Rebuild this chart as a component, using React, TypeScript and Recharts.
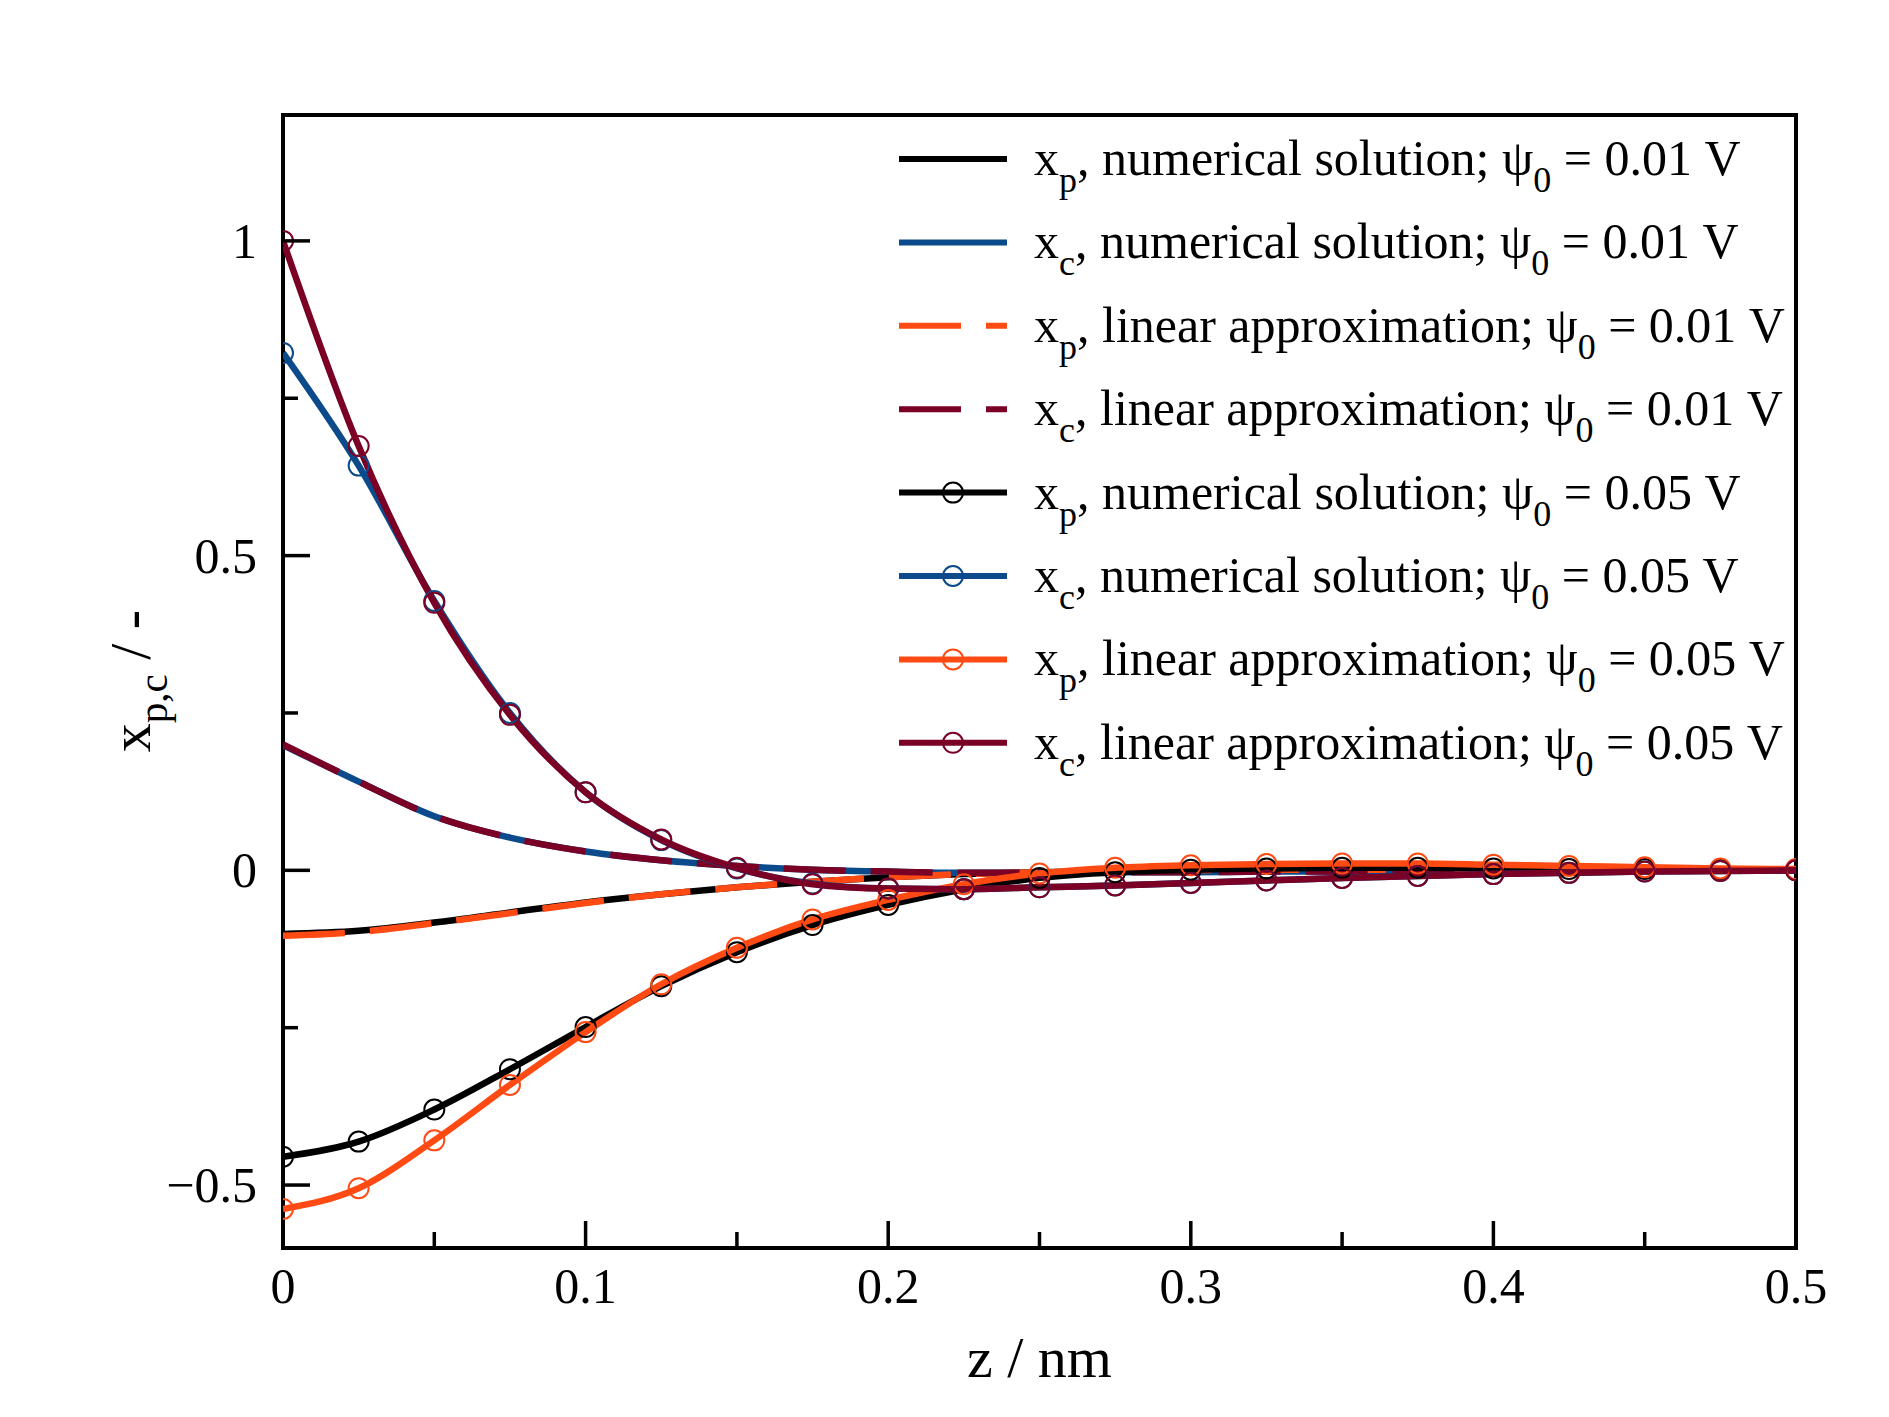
import React from 'react';
import { LineChart, Line, XAxis, YAxis, ReferenceArea, Label } from 'recharts';

// z / nm
const zNm = [0, 0.025, 0.05, 0.075, 0.1, 0.125, 0.15, 0.175, 0.2, 0.225, 0.25, 0.275, 0.3, 0.325, 0.35, 0.375, 0.4, 0.425, 0.45, 0.475, 0.5];

// psi0 = 0.01 V
const xpNum001 = [-0.101, -0.096, -0.083, -0.067, -0.051, -0.038, -0.027, -0.018, -0.011, -0.006, -0.003, -0.001, 0.0, 0.001, 0.001, 0.001, 0.0, 0.0, 0.0, 0.0, 0.0];
const xcNum001 = [0.199, 0.141, 0.086, 0.052, 0.03, 0.016, 0.007, 0.001, -0.002, -0.004, -0.004, -0.003, -0.003, -0.002, -0.002, -0.001, -0.001, -0.001, 0.0, 0.0, 0.0];
const xpLin001 = [-0.104, -0.098, -0.084, -0.068, -0.052, -0.038, -0.027, -0.018, -0.011, -0.006, -0.003, -0.001, 0.0, 0.001, 0.001, 0.001, 0.0, 0.0, 0.0, 0.0, 0.0];
const xcLin001 = [0.2, 0.141, 0.086, 0.052, 0.03, 0.016, 0.007, 0.001, -0.002, -0.004, -0.004, -0.003, -0.003, -0.002, -0.002, -0.001, -0.001, -0.001, 0.0, 0.0, 0.0];

// psi0 = 0.05 V
const xpNum005 = [-0.455, -0.431, -0.38, -0.316, -0.249, -0.184, -0.13, -0.087, -0.055, -0.03, -0.012, -0.003, 0.001, 0.003, 0.004, 0.004, 0.003, 0.002, 0.002, 0.001, 0.0];
const xcNum005 = [0.822, 0.643, 0.428, 0.25, 0.124, 0.048, 0.003, -0.021, -0.029, -0.03, -0.027, -0.024, -0.02, -0.016, -0.012, -0.009, -0.006, -0.004, -0.002, -0.001, 0.0];
const xpLin005 = [-0.538, -0.505, -0.429, -0.341, -0.257, -0.181, -0.123, -0.078, -0.047, -0.022, -0.005, 0.004, 0.008, 0.01, 0.011, 0.011, 0.009, 0.007, 0.005, 0.003, 0.002];
const xcLin005 = [1.0, 0.674, 0.425, 0.247, 0.124, 0.049, 0.004, -0.022, -0.029, -0.03, -0.027, -0.024, -0.02, -0.016, -0.012, -0.009, -0.006, -0.004, -0.002, -0.001, 0.0];

const xTicks = [0, 0.05, 0.1, 0.15, 0.2, 0.25, 0.3, 0.35, 0.4, 0.45, 0.5];
const xTickLabels = ['0', '', '0.1', '', '0.2', '', '0.3', '', '0.4', '', '0.5'];
const yTicks = [-0.5, -0.25, 0, 0.25, 0.5, 0.75, 1];
const yTickLabels = ['\u22120.5', '', '0', '', '0.5', '', '1'];

const BLACK = '#000000';
const BLUE = '#0b4a8b';
const ORANGE = '#ff4a14';
const DARKRED = '#7b0025';

const FONT = "'Liberation Serif', 'Times New Roman', serif";

const series = [
  { key: 'xpNum001', values: xpNum001, sub: 'p', method: 'numerical solution', psi: '0.01', color: BLACK, dashed: false, marker: false },
  { key: 'xcNum001', values: xcNum001, sub: 'c', method: 'numerical solution', psi: '0.01', color: BLUE, dashed: false, marker: false },
  { key: 'xpLin001', values: xpLin001, sub: 'p', method: 'linear approximation', psi: '0.01', color: ORANGE, dashed: true, marker: false },
  { key: 'xcLin001', values: xcLin001, sub: 'c', method: 'linear approximation', psi: '0.01', color: DARKRED, dashed: true, marker: false },
  { key: 'xpNum005', values: xpNum005, sub: 'p', method: 'numerical solution', psi: '0.05', color: BLACK, dashed: false, marker: true },
  { key: 'xcNum005', values: xcNum005, sub: 'c', method: 'numerical solution', psi: '0.05', color: BLUE, dashed: false, marker: true },
  { key: 'xpLin005', values: xpLin005, sub: 'p', method: 'linear approximation', psi: '0.05', color: ORANGE, dashed: false, marker: true },
  { key: 'xcLin005', values: xcLin005, sub: 'c', method: 'linear approximation', psi: '0.05', color: DARKRED, dashed: false, marker: true },
];

const data = zNm.map((z, i) => {
  const row: Record<string, number> = { z };
  series.forEach((s) => {
    row[s.key] = s.values[i];
  });
  return row;
});

const DASH = '62 25';
const LINE_W = 6.5;

// plot box in page pixels
const PLOT_LEFT = 283;
const PLOT_TOP = 115;
const PLOT_RIGHT = 1796;
const PLOT_BOTTOM = 1248;
const AXIS_W = 100;
const AXIS_H = 100;

const XTick = (props: any) => {
  const { x, y, index } = props;
  const label = xTickLabels[index];
  const len = label ? 27 : 16;
  return (
    <g>
      <line x1={x} x2={x} y1={y} y2={y - len} stroke="#000" strokeWidth={3.5} />
      {label && (
        <text x={x} y={y + 55} textAnchor="middle" fontSize={50} fontFamily={FONT} fill="#000">
          {label}
        </text>
      )}
    </g>
  );
};

const YTick = (props: any) => {
  const { x, y, index } = props;
  const label = yTickLabels[index];
  const len = label ? 27 : 15;
  return (
    <g>
      <line x1={x} x2={x + len} y1={y} y2={y} stroke="#000" strokeWidth={3.5} />
      {label && (
        <text x={x - 26} y={y} dy="0.34em" textAnchor="end" fontSize={50} fontFamily={FONT} fill="#000">
          {label}
        </text>
      )}
    </g>
  );
};

const YLabel = () => (
  <text
    x={150}
    y={681}
    transform="rotate(-90, 150, 681)"
    textAnchor="middle"
    fontSize={58}
    fontFamily={FONT}
    fill="#000"
  >
    x
    <tspan fontSize={41} dy={17}>p,c</tspan>
    <tspan dy={-17}>{'  / -'}</tspan>
  </text>
);

const XLabel = () => (
  <text x={(PLOT_LEFT + PLOT_RIGHT) / 2} y={1377} textAnchor="middle" fontSize={58} fontFamily={FONT} fill="#000">
    z / nm
  </text>
);

const LegendBox = () => {
  const lineX1 = 899;
  const lineX2 = 1007;
  const textX = 1034;
  const rowY0 = 159;
  const rowGap = 83.4;
  return (
    <svg
      width={1889}
      height={1417}
      style={{ position: 'absolute', left: 0, top: 0, pointerEvents: 'none' }}
    >
      {series.map((s, i) => {
        const y = rowY0 + i * rowGap;
        return (
          <g key={s.key}>
            <line
              x1={lineX1}
              x2={lineX2}
              y1={y}
              y2={y}
              stroke={s.color}
              strokeWidth={6}
              strokeDasharray={s.dashed ? DASH : undefined}
            />
            {s.marker && (
              <circle cx={(lineX1 + lineX2) / 2} cy={y} r={10} fill="none" stroke={s.color} strokeWidth={2} />
            )}
            <text x={textX} y={y + 16} fontSize={50} fontFamily={FONT} fill="#000">
              x
              <tspan fontSize={36} dy={17}>{s.sub}</tspan>
              <tspan dy={-17}>{`, ${s.method}; \u03c8`}</tspan>
              <tspan fontSize={36} dy={17}>0</tspan>
              <tspan dy={-17}>{` = ${s.psi} V`}</tspan>
            </text>
          </g>
        );
      })}
    </svg>
  );
};

export default function App() {
  return (
    <div style={{ position: 'relative', width: 1889, height: 1417, background: '#fff' }}>
      <style>{'body { margin: 0; }'}</style>
      <LineChart
        width={1889}
        height={1417}
        data={data}
        margin={{
          top: PLOT_TOP,
          right: 1889 - PLOT_RIGHT,
          bottom: 1417 - PLOT_BOTTOM - AXIS_H,
          left: PLOT_LEFT - AXIS_W,
        }}
      >
        <XAxis
          dataKey="z"
          type="number"
          domain={[0, 0.5]}
          ticks={xTicks}
          interval={0}
          allowDataOverflow
          axisLine={false}
          tickLine={false}
          tickSize={0}
          tickMargin={0}
          height={AXIS_H}
          tick={XTick}
        >
          <Label content={XLabel} />
        </XAxis>
        <YAxis
          type="number"
          domain={[-0.6, 1.2]}
          ticks={yTicks}
          interval={0}
          allowDataOverflow
          axisLine={false}
          tickLine={false}
          tickSize={0}
          tickMargin={0}
          width={AXIS_W}
          tick={YTick}
        >
          <Label content={YLabel} />
        </YAxis>
        {series.map((s) => (
          <Line
            key={s.key}
            dataKey={s.key}
            type="monotone"
            stroke={s.color}
            strokeWidth={LINE_W}
            strokeDasharray={s.dashed ? DASH : undefined}
            dot={s.marker ? { r: 10, stroke: s.color, strokeWidth: 2, fill: 'none' } : false}
            activeDot={false}
            isAnimationActive={false}
          />
        ))}
        <ReferenceArea
          x1={0}
          x2={0.5}
          y1={-0.6}
          y2={1.2}
          fill="none"
          fillOpacity={0}
          stroke="#000"
          strokeWidth={4}
          ifOverflow="visible"
        />
      </LineChart>
      <LegendBox />
    </div>
  );
}
